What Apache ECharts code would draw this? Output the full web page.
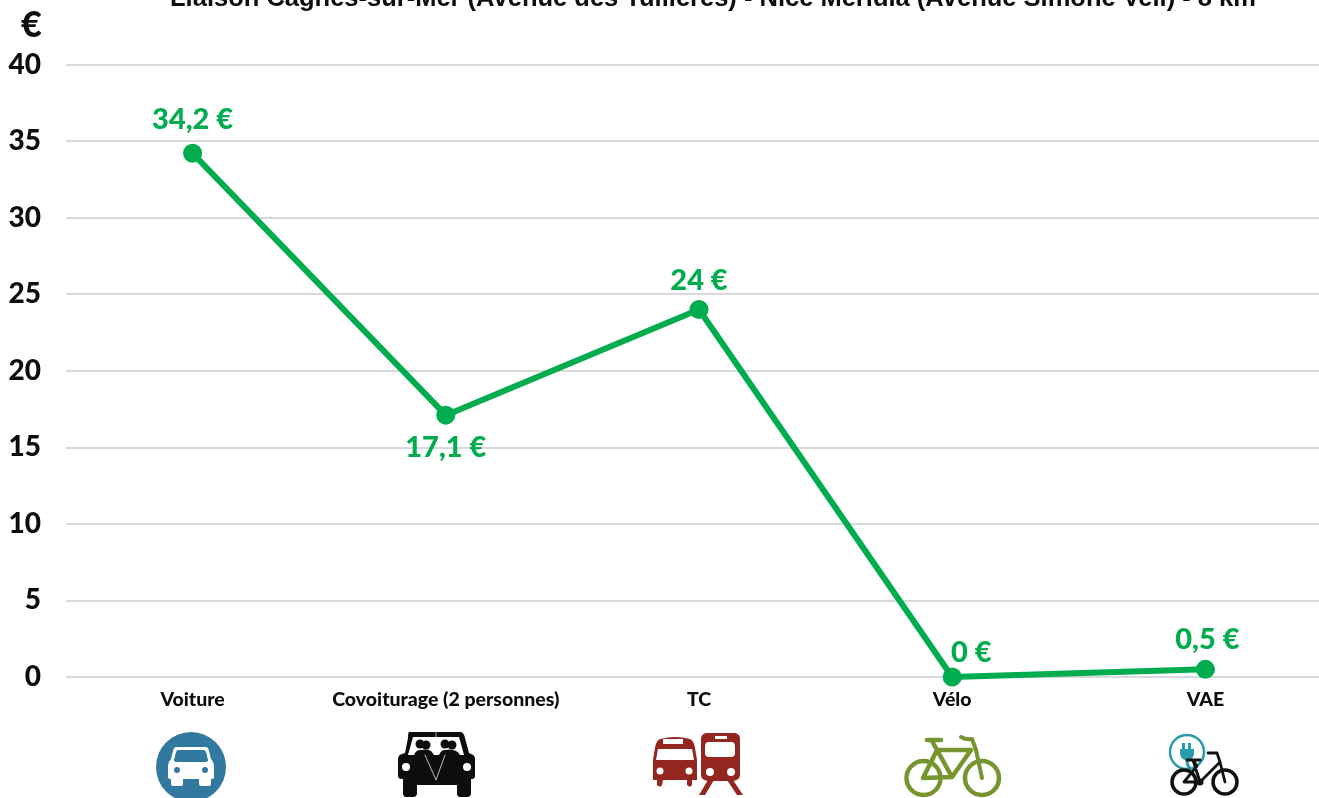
<!DOCTYPE html>
<html>
<head>
<meta charset="utf-8">
<style>html,body{margin:0;padding:0;background:#fff;overflow:hidden}#chart{width:1332px;height:798px}</style>
<script src="https://cdn.jsdelivr.net/npm/echarts@6/dist/echarts.min.js"></script>
</head>
<body>
<div id="chart"></div>
<script>
var categories = ['Voiture', 'Covoiturage (2 personnes)', 'TC', 'Vélo', 'VAE'];
var values = [34.2, 17.1, 24, 0, 0.5];
var valueLabels = ['34,2 €', '17,1 €', '24 €', '0 €', '0,5 €'];
var titleText = 'Liaison Cagnes-sur-Mer (Avenue des Tuilières) - Nice Méridia (Avenue Simone Veil) - 8 km';

var font = 'Lato, "Noto Sans", sans-serif';
var green = '#00ac4e';

// position de chaque etiquette
var labelOpts = [
    { position: 'top', distance: 10 },
    { position: 'bottom', distance: 8 },
    { position: 'top', distance: 5 },
    { position: 'top', distance: 0, offset: [19, 0] },
    { position: 'top', distance: 6, offset: [2, 0] }
];

// le composant graphic ne prend pas type:'path' ici, on enregistre chaque trace
var pathCount = 0;
function pathEl(d, style) {
    var name = 'iconPath' + (pathCount++);
    echarts.graphic.registerShape(name, echarts.graphic.extendPath(d, {}));
    return { type: name, silent: true, style: style };
}
function p(d, fill) { return pathEl(d, { fill: fill }); }
function s(d, stroke, w) { return pathEl(d, { fill: 'none', stroke: stroke, lineWidth: w, lineCap: 'round', lineJoin: 'round' }); }
function c(x, y, r, fill, stroke, w) {
    return { type: 'circle', silent: true, shape: { cx: x, cy: y, r: r }, style: { fill: fill, stroke: stroke || null, lineWidth: w || 0 } };
}

var blue = '#31799f', red = '#93261f', olive = '#76952f', teal = '#2a9aad', black = '#0d0d0d';
var icons = [
    // voiture
    c(191, 767, 35, blue),
    p('M176 747 L206 747 Q208 747 209 751 L211 759 Q214 762 214 767 L214 777 Q214 779 212 779 L211 779 L211 784 Q211 786 209 786 L201 786 Q199 786 199 784 L199 779 L183 779 L183 784 Q183 786 181 786 L173 786 Q171 786 171 784 L171 779 L170 779 Q168 779 168 777 L168 767 Q168 762 171 759 L173 751 Q174 747 176 747 Z', '#fff'),
    p('M178 750 L204 750 Q205 750 206 752 L208 760 Q208 762 205 762 L177 762 Q174 762 174 760 L176 752 Q177 750 178 750 Z', blue),
    c(177, 770, 3, blue), c(205, 770, 3, blue),
    // covoiturage
    p('M409 732 L461 732 Q464 733 465 738 L469 753 L471 754 Q475 755 475 759 L475 776 Q475 779 472 779 L471 779 L471 793 Q471 797 467 797 L460 797 Q457 797 457 793 L457 785 L417 785 L417 793 Q417 797 413 797 L406 797 Q403 797 403 793 L403 779 L402 779 Q398 779 398 776 L398 759 Q398 755 402 754 L405 753 L408 738 Q408 733 409 732 Z', black),
    p('M413 737 L459 737 L464 755 L408 755 Z', '#fff'),
    s('M436 732 L436 737', '#aaa', 1),
    c(420, 744, 4.5, black), c(426, 745, 4.5, black), c(445, 744, 4.5, black), c(452, 745, 4.5, black),
    p('M414 755 Q416 750 420 750 Q426 749 429 750 Q432 751 434 755 Z', black),
    p('M439 755 Q441 750 445 750 Q451 749 453 750 Q458 751 460 755 Z', black),
    s('M425 755 L436 780 L445 755', '#bbb', 1),
    c(406, 767, 4, '#fff'), c(467, 767, 4, '#fff'),
    // bus
    p('M660 739 Q675 735 690 739 Q694 741 695 748 L697 760 L697 780 L692 780 L692 785 Q690 788 687 785 L687 780 L663 780 L662 785 Q660 788 657 785 L657 780 L653 780 L653 760 L655 748 Q656 741 660 739 Z', red),
    p('M658 749 L692 749 L694 760 L656 760 Z', '#fff'),
    p('M663 739 L683 739 L683 744 L663 744 Z', '#fff'),
    c(660, 771, 3.5, '#fff'), c(689, 771, 3.5, '#fff'),
    // train
    p('M706 733 L735 733 Q740 734 740 739 L740 775 Q740 780 733 781 L708 781 Q701 780 701 775 L701 739 Q701 734 706 733 Z', red),
    p('M709 742 L731 742 Q735 742 735 746 L735 753 Q735 757 731 757 L709 757 Q705 757 705 753 L705 746 Q705 742 709 742 Z', '#fff'),
    p('M715 736 L727 736 L727 739 L715 739 Z', '#fff'),
    c(710, 772, 4, '#fff'), c(731, 772, 4, '#fff'),
    p('M708 780 L714 780 L705 795 L699 795 Z', red), p('M727 780 L733 780 L743 795 L737 795 Z', red),
    // velo
    c(923.5, 778, 17, 'none', olive, 4.5), c(982, 778, 17, 'none', olive, 4.5),
    s('M923 778 L937 750 L971 750 L952 777 L923 778 M937 750 L952 777 M932 741 L937 750 M927 740 L941 740', olive, 4.5),
    s('M961 737 Q966 740 972 739 L976 750 L982 778', olive, 4),
    // vae
    c(1187, 752, 17, 'none', teal, 2.5),
    p('M1180 749 L1194 749 L1194 754 Q1193 760 1187 760 Q1181 760 1180 754 Z', teal),
    p('M1182 743 L1185 743 L1185 749 L1182 749 Z', teal), p('M1188 743 L1191 743 L1191 749 L1188 749 Z', teal),
    s('M1187 760 Q1187 766 1190 768', teal, 3),
    c(1184, 782, 12, 'none', '#111', 3.5), c(1225, 782, 12, 'none', '#111', 3.5),
    s('M1184 782 L1197 766 L1193 760 L1200 782 L1220 762 L1225 782 M1184 782 L1200 782 M1187 760 L1200 760 M1208 753 L1217 753 L1220 762', '#111', 2.8),
    c(1200, 782, 3.5, '#111')
];

var chart = echarts.init(document.getElementById('chart'));
var option = {
    animation: false,
    textStyle: { fontFamily: font },
    title: {
        text: titleText,
        left: 708,
        top: -19,
        textAlign: 'center',
        textStyle: { fontFamily: '"Liberation Sans", sans-serif', fontSize: 25.5, fontWeight: 'bold', color: black }
    },
    grid: { left: 66, right: 0, top: 64.5, height: 612.5, containLabel: false },
    xAxis: {
        type: 'category',
        data: categories,
        boundaryGap: true,
        axisLine: { show: false },
        axisTick: { show: false },
        axisLabel: { margin: 13, interval: 0, fontSize: 19.5, fontWeight: 900, color: black, fontFamily: font }
    },
    yAxis: {
        type: 'value',
        min: 0,
        max: 40,
        interval: 5,
        name: '€',
        nameLocation: 'end',
        nameGap: 21,
        nameTextStyle: { fontSize: 36, fontWeight: 900, color: black, fontFamily: font, align: 'right', padding: [0, 24, 0, 0] },
        axisLine: { show: false },
        axisTick: { show: false },
        axisLabel: { margin: 25, fontSize: 28, fontWeight: 900, color: black, fontFamily: font },
        splitLine: { lineStyle: { color: '#d9d9d9', width: 2 } }
    },
    series: [{
        type: 'line',
        data: values.map(function (v, i) {
            return {
                value: v,
                label: Object.assign({ show: true, formatter: valueLabels[i] }, labelOpts[i])
            };
        }),
        symbol: 'circle',
        symbolSize: 19,
        lineStyle: { color: green, width: 6 },
        itemStyle: { color: green },
        label: { color: green, fontSize: 29, fontWeight: 900, fontFamily: font },
        z: 3
    }],
    graphic: { elements: icons }
};
chart.setOption(option);
window.addEventListener('resize', function () {
    chart.resize();
});
</script>
</body>
</html>
